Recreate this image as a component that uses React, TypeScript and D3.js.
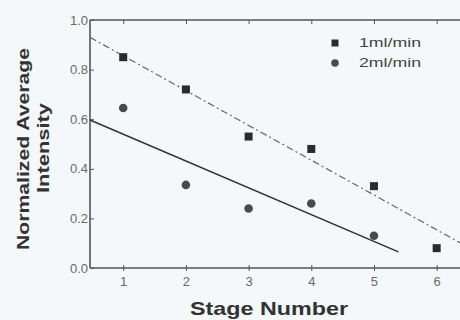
import React, { useEffect, useRef } from 'react'
import * as d3 from 'd3'

interface Pt {
  x: number
  y: number
}

const stages = [1, 2, 3, 4, 5, 6]
const yTicks = [0, 0.2, 0.4, 0.6, 0.8, 1.0]

const flow1Values = [0.85, 0.72, 0.53, 0.48, 0.33, 0.08]
const flow2Values = [0.645, 0.335, 0.24, 0.26, 0.13]

// fitted trend lines, endpoints
const fit1: Pt[] = [
  { x: 0.47, y: 0.93 },
  { x: 6.6, y: 0.07 },
]
const fit2: Pt[] = [
  { x: 0.47, y: 0.597 },
  { x: 5.39, y: 0.065 },
]

const seriesLabels = ['1ml/min', '2ml/min']

export default function App() {
  const svgRef = useRef<SVGSVGElement>(null)

  useEffect(() => {
    if (!svgRef.current) return
    const svg = d3.select(svgRef.current)
    svg.selectAll('*').remove()

    const width = 460
    const height = 320
    const axisColor = '#555'
    const textColor = '#6a6a6a'
    const font = "'Liberation Sans', Arial, sans-serif"
    const boldFont = "'Liberation Sans Narrow', 'Liberation Sans', Arial, sans-serif"

    svg.append('rect').attr('width', width).attr('height', height).attr('fill', '#f4f8fb')

    const x = d3.scaleLinear().domain([0.47, 6.5]).range([90, 468])
    const y = d3.scaleLinear().domain([0, 1]).range([268, 20])

    const g = svg.append('g')

    // axes
    const left = g.append('g').attr('transform', `translate(${x(0.47)},0)`)
      .call(d3.axisLeft(y).tickValues(yTicks).tickFormat(d3.format('.1f')).tickSize(-4).tickPadding(2))
    left.selectAll('text').attr('font-size', 13).attr('font-family', font).attr('fill', textColor)

    const bottom = g.append('g').attr('transform', `translate(0,${y(0)})`)
      .call(d3.axisBottom(x).tickValues(stages).tickFormat(d3.format('d')).tickSizeInner(3).tickSizeOuter(0).tickPadding(6))
    bottom.selectAll('text').attr('font-size', 13).attr('font-family', font).attr('fill', textColor)
    bottom.selectAll('.tick line').attr('y1', -3)

    const top = g.append('g').attr('transform', `translate(0,${y(1)})`)
      .call(d3.axisBottom(x).tickValues(stages).tickFormat(() => '').tickSizeInner(4).tickSizeOuter(0))

    g.selectAll('.domain').attr('stroke', axisColor).attr('stroke-width', 1.6)
    g.selectAll('.tick line').attr('stroke', axisColor).attr('stroke-width', 1)
    left.select('.domain').attr('d', `M0,${y(1)}V${y(0)}`)
    top.select('.domain').attr('d', `M${x(0.47)},0H${width}`)
    bottom.select('.domain').attr('d', `M${x(0.47)},0H${width}`)

    // fit lines
    const line = d3.line<Pt>().x((d) => x(d.x)).y((d) => y(d.y))
    g.append('path').datum(fit1).attr('d', line).attr('fill', 'none')
      .attr('stroke', '#666').attr('stroke-width', 1.2).attr('stroke-dasharray', '7 3 2 3')
    g.append('path').datum(fit2).attr('d', line).attr('fill', 'none')
      .attr('stroke', '#333').attr('stroke-width', 1.6)

    // markers
    const sq = 8
    g.selectAll('.sq').data(flow1Values).join('rect').attr('class', 'sq')
      .attr('x', (d, i) => x(stages[i]) - sq / 2).attr('y', (d) => y(d) - sq / 2)
      .attr('width', sq).attr('height', sq).attr('fill', '#2b2b2b')
    g.selectAll('.ci').data(flow2Values).join('circle').attr('class', 'ci')
      .attr('cx', (d, i) => x(stages[i])).attr('cy', (d) => y(d)).attr('r', 4.3).attr('fill', '#4a4a4a')

    // legend
    const legend = g.append('g').attr('transform', 'translate(335,43)')
    legend.append('rect').attr('x', -3.5).attr('y', -3.5).attr('width', 7).attr('height', 7).attr('fill', '#2b2b2b')
    legend.append('circle').attr('cx', 0).attr('cy', 20).attr('r', 3.8).attr('fill', '#4a4a4a')
    legend.selectAll('text').data(seriesLabels).join('text')
      .attr('x', 24).attr('y', (d, i) => i * 20).attr('dy', '0.35em')
      .attr('font-size', 12.5).attr('font-family', font).attr('fill', '#444')
      .attr('textLength', 62).attr('lengthAdjust', 'spacingAndGlyphs').text((d) => d)

    // axis titles
    const title = (t: string, tx: number, ty: number, rot: number, size: number, len: number) =>
      svg.append('text').attr('transform', `translate(${tx},${ty}) rotate(${rot})`).attr('text-anchor', 'middle')
        .attr('font-size', size).attr('font-weight', 'bold').attr('font-family', boldFont).attr('fill', '#333')
        .attr('textLength', len).attr('lengthAdjust', 'spacingAndGlyphs').text(t)
    title('Normalized Average', 29, 149, -90, 17, 202)
    title('Intensity', 49, 148, -90, 17, 90)
    title('Stage Number', 269, 315, 0, 19, 158)
  }, [])

  return (
    <svg ref={svgRef} width={460} height={320} style={{ position: 'fixed', left: 0, top: 0, display: 'block' }} />
  )
}
